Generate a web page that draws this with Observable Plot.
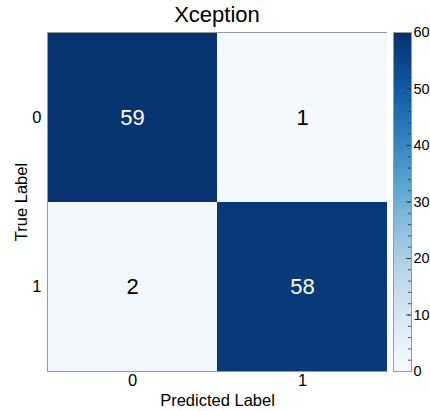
<!DOCTYPE html>
<html>
<head>
<meta charset="utf-8">
<script src="https://cdn.jsdelivr.net/npm/d3@7"></script>
<script src="https://cdn.jsdelivr.net/npm/@observablehq/plot@0.6"></script>
<style>
  body { margin: 0; background: #fff; }
  #wrap { position: relative; width: 430px; height: 411px; font-family: "Liberation Sans", Arial, sans-serif; }
  #title { position: absolute; left: 47px; width: 340px; top: 2px; text-align: center; font-size: 22px; color: #000; }
  #heat { position: absolute; left: 0; top: 0; }
  #cbar { position: absolute; left: 393px; top: 0; }
</style>
</head>
<body>
<div id="wrap">
  <div id="heat"></div>
  <div id="cbar"></div>
  <div id="title">Xception</div>
</div>
<script>
const title = "Xception";
const trueLabels = ["0", "0", "1", "1"];
const predLabels = ["0", "1", "0", "1"];
const counts = [59, 1, 2, 58];
const classes = ["0", "1"];
const colorDomain = [0, 60];
const cbarMajorTicks = [0, 10, 20, 30, 40, 50, 60];
const cbarMinorTicks = d3.range(0, 61, 2);

const cells = counts.map((v, i) => ({ t: trueLabels[i], p: predLabels[i], v }));
const color = { type: "linear", domain: colorDomain, scheme: "blues" };
const font = "Liberation Sans, Arial, sans-serif";

const heat = Plot.plot({
  width: 387, height: 411,
  marginLeft: 47, marginRight: 0, marginTop: 32, marginBottom: 40,
  style: { fontFamily: font, color: "#000" },
  x: { domain: classes, padding: 0 },
  y: { domain: classes, padding: 0 },
  color,
  marks: [
    Plot.cell(cells, { x: "p", y: "t", fill: "v" }),
    Plot.text(cells, { x: "p", y: "t", text: d => String(d.v), fontSize: 22,
      fill: d => d.v > 30 ? "white" : "black" }),
    Plot.frame({ stroke: "#999", strokeWidth: 1 }),
    Plot.axisX({ tickSize: 0, tickPadding: 3, fontSize: 16.5, label: "Predicted Label", labelAnchor: "center", labelOffset: 34 }),
    Plot.axisY({ tickSize: 0, tickPadding: 6, fontSize: 16.5, label: "True Label", labelAnchor: "center", labelOffset: 32 })
  ]
});
document.getElementById("heat").appendChild(heat);

const steps = d3.range(0, 60, 0.5).map(a => ({ a, b: a + 0.5 }));
const cbar = Plot.plot({
  width: 37, height: 411,
  marginLeft: 0, marginRight: 19, marginTop: 32, marginBottom: 40,
  style: { fontFamily: font, color: "#000" },
  y: { domain: colorDomain },
  color,
  marks: [
    Plot.rect(steps, { y1: "a", y2: d => Math.min(60, d.b + 0.4), fill: d => (d.a + d.b) / 2, shapeRendering: "crispEdges" }),
    Plot.tickY(cbarMinorTicks, { y: d => d, stroke: "#333", strokeWidth: 0.8, insetLeft: 15 }),
    Plot.tickY(cbarMajorTicks, { y: d => d, stroke: "#333", strokeWidth: 0.8, insetLeft: 13 }),
    Plot.frame({ stroke: "#999", strokeWidth: 1 }),
    Plot.axisY({ anchor: "right", ticks: cbarMajorTicks, tickSize: 0, tickPadding: 2, fontSize: 14.5, label: null })
  ]
});
document.getElementById("cbar").appendChild(cbar);
</script>
</body>
</html>
